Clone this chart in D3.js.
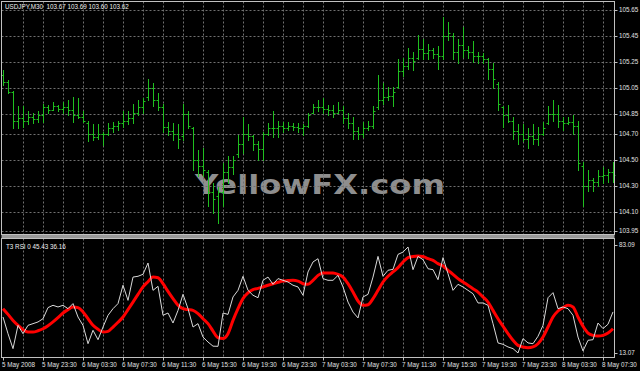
<!DOCTYPE html>
<html><head><meta charset="utf-8">
<script src="https://cdn.jsdelivr.net/npm/d3@7"></script>
<style>html,body{margin:0;padding:0;background:#000;}svg{display:block;}</style>
</head><body>
<svg id="chart" width="640" height="371"></svg>
<script>
const highs = [105.19,105.11,105.03,104.91,104.91,104.87,104.86,104.87,104.93,104.92,104.94,104.92,104.94,104.96,104.98,104.97,104.87,104.80,104.77,104.77,104.71,104.78,104.79,104.80,104.87,104.87,104.93,104.96,104.97,105.12,105.09,105.01,104.93,104.79,104.78,104.77,104.93,104.87,104.75,104.57,104.59,104.42,104.32,104.29,104.47,104.53,104.53,104.69,104.83,104.77,104.69,104.64,104.71,104.78,104.87,104.80,104.79,104.79,104.78,104.78,104.77,104.86,104.93,104.96,104.97,104.92,104.92,104.94,104.91,104.86,104.83,104.75,104.79,104.80,104.91,105.15,105.09,105.06,105.06,105.27,105.28,105.36,105.33,105.46,105.43,105.39,105.36,105.37,105.60,105.56,105.47,105.43,105.52,105.37,105.41,105.33,105.32,105.28,105.24,105.10,104.91,104.92,104.83,104.77,104.77,104.74,104.77,104.75,104.79,104.91,104.96,104.92,104.83,104.83,104.84,104.80,104.48,104.42,104.36,104.42,104.44,104.43,104.48];
const lows = [105.07,105.01,104.74,104.74,104.75,104.77,104.78,104.79,104.79,104.86,104.88,104.87,104.86,104.84,104.79,104.82,104.79,104.64,104.65,104.66,104.61,104.69,104.71,104.73,104.75,104.77,104.78,104.84,104.86,104.96,104.91,104.88,104.71,104.69,104.65,104.59,104.65,104.74,104.42,104.37,104.37,104.14,104.09,104.01,104.14,104.32,104.39,104.52,104.55,104.65,104.57,104.50,104.50,104.69,104.67,104.67,104.71,104.73,104.73,104.71,104.69,104.75,104.86,104.87,104.86,104.84,104.83,104.86,104.78,104.74,104.66,104.66,104.67,104.73,104.74,104.89,104.93,104.96,104.91,105.05,105.14,105.20,105.19,105.27,105.27,105.27,105.28,105.20,105.27,105.42,105.27,105.24,105.29,105.28,105.25,105.24,105.24,105.12,105.05,104.88,104.75,104.79,104.66,104.62,104.64,104.59,104.62,104.61,104.69,104.77,104.80,104.75,104.73,104.77,104.70,104.42,104.14,104.26,104.26,104.30,104.32,104.33,104.33];
const opens = [105.15,105.10,105.02,104.80,104.82,104.80,104.83,104.81,104.84,104.90,104.88,104.91,104.89,104.90,104.88,104.84,104.83,104.78,104.70,104.67,104.70,104.70,104.74,104.76,104.78,104.80,104.82,104.86,104.90,104.98,105.05,104.96,104.90,104.75,104.72,104.70,104.68,104.85,104.74,104.50,104.45,104.40,104.25,104.22,104.25,104.40,104.44,104.54,104.62,104.70,104.68,104.62,104.58,104.70,104.74,104.74,104.76,104.74,104.76,104.75,104.74,104.76,104.86,104.90,104.90,104.89,104.88,104.86,104.88,104.82,104.78,104.72,104.70,104.74,104.76,104.90,104.96,104.98,104.99,105.06,105.18,105.22,105.28,105.28,105.35,105.32,105.34,105.31,105.30,105.45,105.45,105.33,105.38,105.34,105.33,105.30,105.30,105.27,105.20,105.08,104.90,104.84,104.80,104.72,104.70,104.66,104.68,104.66,104.70,104.78,104.85,104.85,104.80,104.78,104.79,104.76,104.45,104.30,104.34,104.33,104.37,104.38,104.40];
const closes = [105.10,105.02,104.80,104.82,104.80,104.83,104.81,104.84,104.90,104.88,104.91,104.89,104.90,104.88,104.84,104.83,104.80,104.70,104.67,104.70,104.70,104.74,104.76,104.78,104.80,104.82,104.86,104.90,104.95,105.05,104.96,104.90,104.75,104.72,104.70,104.66,104.85,104.76,104.50,104.45,104.42,104.25,104.20,104.25,104.40,104.44,104.50,104.62,104.70,104.68,104.62,104.58,104.70,104.74,104.74,104.76,104.74,104.76,104.75,104.74,104.76,104.84,104.90,104.90,104.89,104.88,104.86,104.88,104.82,104.78,104.72,104.70,104.74,104.76,104.87,104.96,104.98,104.99,105.02,105.18,105.22,105.28,105.26,105.35,105.32,105.34,105.31,105.30,105.45,105.47,105.33,105.38,105.34,105.33,105.30,105.30,105.27,105.20,105.12,104.93,104.84,104.80,104.72,104.70,104.66,104.68,104.66,104.70,104.74,104.85,104.85,104.80,104.78,104.79,104.76,104.47,104.30,104.34,104.33,104.37,104.38,104.40,104.38];
const rsi = [36.4,25.6,15.9,31.0,25.6,31.0,32.1,33.2,35.3,42.5,44.0,42.9,44.0,41.8,45.1,36.4,31.0,19.1,27.8,21.7,29.9,37.5,41.8,45.1,57.0,47.2,62.3,62.8,64.1,71.4,53.7,56.3,37.5,39.0,32.5,40.7,51.1,41.8,29.9,32.1,23.4,20.2,17.5,17.4,39.0,38.1,49.4,53.7,62.8,53.7,50.5,48.9,60.2,62.3,57.6,61.3,60.2,59.1,57.0,55.9,50.5,65.6,72.1,74.2,61.3,60.2,60.2,63.4,55.9,46.1,39.6,35.8,49.4,51.1,62.3,75.7,62.8,66.7,67.3,77.0,78.5,81.8,67.1,75.7,73.6,67.7,67.1,60.6,74.9,64.5,53.7,57.6,55.9,53.7,51.5,45.5,45.5,44.0,32.1,19.6,18.7,17.0,15.9,13.1,22.4,19.6,19.1,23.9,31.0,48.9,52.2,41.8,42.9,41.8,37.5,23.4,14.4,21.3,21.7,32.5,28.9,31.7,39.7];
const t3 = [41.8,38.1,34.2,31.0,28.2,26.7,26.7,27.5,28.8,30.8,33.2,36.0,39.0,41.2,42.9,42.5,39.7,35.3,31.0,28.4,26.7,27.1,29.9,33.0,36.4,41.2,46.1,51.1,55.9,59.3,62.3,61.9,58.0,53.0,48.3,44.0,41.8,41.2,40.7,38.6,35.3,32.1,27.3,23.0,22.4,25.6,34.2,41.8,48.3,52.0,54.1,55.0,55.9,57.0,58.0,58.9,59.7,60.0,60.2,59.7,58.0,57.6,60.2,63.4,65.0,65.0,65.0,64.1,62.3,58.0,52.6,46.8,44.0,44.4,48.3,53.7,59.1,62.8,65.6,68.4,72.1,74.9,75.7,75.9,75.7,74.2,73.1,71.0,69.5,66.7,64.1,61.3,59.1,57.0,54.8,52.6,49.4,46.1,40.7,35.3,30.4,25.6,21.3,18.0,17.0,16.5,17.0,19.1,23.4,29.9,36.4,40.3,42.5,44.0,42.9,36.4,30.4,26.0,24.5,24.1,24.5,26.0,28.8];
const priceTicks = [105.65,105.45,105.25,105.05,104.85,104.70,104.50,104.30,104.10,103.95];
const rsiTicks = [83.09,13.07];
const timeLabels = ["5 May 2008","5 May 23:30","6 May 03:30","6 May 07:30","6 May 11:30","6 May 15:30","6 May 19:30","6 May 23:30","7 May 03:30","7 May 07:30","7 May 11:30","7 May 15:30","7 May 19:30","7 May 23:30","8 May 03:30","8 May 07:30"];
const titleText = "USDJPY,M30  103.67 103.69 103.60 103.62";
const subTitle = "T3 RSI 0 45.43 36.16";
const watermark = "YellowFX.com";

const svg = d3.select("#chart");
const W = 640, H = 371;
const L = 1.5, R = 614.5, T1 = 1.5, B1 = 234.5, T2 = 238.5, B2 = 357.5;
const n = highs.length;
const x = d3.scaleLinear().domain([0, n - 1]).range([3, 3 + 5 * (n - 1)]);
const y = d3.scaleLinear().domain([103.95, 105.65]).range([231, 10]);
const yr = d3.scaleLinear().domain([13.07, 83.09]).range([353, 245]);
const px = v => Math.round(v) + 0.5;

svg.append("rect").attr("width", W).attr("height", H).attr("fill", "#000");

const font = "'Liberation Sans', Arial, sans-serif";
const gridCol = "#707070";

// watermark
svg.append("text").attr("x", 195).attr("y", 194)
  .attr("font-family", "'DejaVu Sans', sans-serif").attr("font-weight", "bold")
  .attr("font-size", 27).attr("textLength", 250).attr("lengthAdjust", "spacingAndGlyphs")
  .attr("fill", "#8e8e8e").text(watermark);

// vertical grid
const vIdx = d3.range(4, n, 4);
svg.append("g").selectAll("line").data(vIdx).join("line")
  .attr("x1", d => px(x(d))).attr("x2", d => px(x(d)))
  .attr("y1", T1).attr("y2", B1)
  .attr("stroke", gridCol).attr("stroke-dasharray", "2,2");
svg.append("g").selectAll("line").data(vIdx).join("line")
  .attr("x1", d => px(x(d))).attr("x2", d => px(x(d)))
  .attr("y1", T2).attr("y2", B2)
  .attr("stroke", gridCol).attr("stroke-dasharray", "2,2");

// horizontal grid top panel
svg.append("g").selectAll("line").data(priceTicks).join("line")
  .attr("x1", L).attr("x2", R)
  .attr("y1", d => px(y(d))).attr("y2", d => px(y(d)))
  .attr("stroke", gridCol).attr("stroke-dasharray", "2,2");

// price axis labels
const pa = svg.append("g");
pa.selectAll("line").data(priceTicks).join("line")
  .attr("x1", R).attr("x2", R + 3)
  .attr("y1", d => px(y(d))).attr("y2", d => px(y(d))).attr("stroke", "#c0c0c0");
pa.selectAll("text").data(priceTicks).join("text")
  .attr("x", 619).attr("y", d => y(d) + 2.3)
  .attr("font-family", font).attr("font-size", 6.3).attr("fill", "#e0e0e0")
  .text(d => d.toFixed(2));

// rsi labels
const ra = svg.append("g");
ra.selectAll("text").data(rsiTicks).join("text")
  .attr("x", 619).attr("y", d => yr(d) + 2.3)
  .attr("font-family", font).attr("font-size", 6.3).attr("fill", "#e0e0e0")
  .text(d => d.toFixed(2));
ra.selectAll("line").data(rsiTicks).join("line")
  .attr("x1", R).attr("x2", R + 3)
  .attr("y1", d => px(yr(d))).attr("y2", d => px(yr(d))).attr("stroke", "#c0c0c0");

// time labels
const lIdx = timeLabels.map((t, i) => i * 8);
const ta = svg.append("g");
ta.selectAll("line").data(lIdx).join("line")
  .attr("x1", d => px(x(d))).attr("x2", d => px(x(d)))
  .attr("y1", B2).attr("y2", B2 + 3).attr("stroke", "#c0c0c0");
ta.selectAll("text").data(lIdx).join("text")
  .attr("x", d => x(d) - 1).attr("y", 367)
  .attr("font-family", font).attr("font-size", 6.3).attr("fill", "#e0e0e0")
  .text((d, i) => timeLabels[i]);

// OHLC bars
const barCol = "#1fbf1f";
const bars = svg.append("g").attr("stroke", barCol).attr("stroke-width", 1);
const idx = d3.range(n);
bars.selectAll("line.hl").data(idx).join("line").attr("class", "hl")
  .attr("x1", i => px(x(i))).attr("x2", i => px(x(i)))
  .attr("y1", i => Math.round(y(highs[i]))).attr("y2", i => Math.round(y(lows[i])) + 1);
bars.selectAll("line.op").data(idx).join("line").attr("class", "op")
  .attr("x1", i => px(x(i)) - 2).attr("x2", i => px(x(i)))
  .attr("y1", i => px(y(opens[i]))).attr("y2", i => px(y(opens[i])));
bars.selectAll("line.cl").data(idx).join("line").attr("class", "cl")
  .attr("x1", i => px(x(i))).attr("x2", i => px(x(i)) + 2)
  .attr("y1", i => px(y(closes[i]))).attr("y2", i => px(y(closes[i])));

// RSI lines
svg.append("defs").append("clipPath").attr("id", "lowclip")
  .append("rect").attr("x", L).attr("y", T2).attr("width", R - L).attr("height", B2 - T2);
const lower = svg.append("g").attr("clip-path", "url(#lowclip)");
lower.append("path").datum(t3)
  .attr("d", d3.line().x((d, i) => x(i)).y(d => yr(d)).curve(d3.curveMonotoneX))
  .attr("fill", "none").attr("stroke", "#ff0000").attr("stroke-width", 3)
  .attr("stroke-linejoin", "round");
lower.append("path").datum(rsi)
  .attr("d", d3.line().x((d, i) => x(i)).y(d => yr(d)))
  .attr("fill", "none").attr("stroke", "#d8d8d8").attr("stroke-width", 1);

// frames
svg.append("rect").attr("x", L).attr("y", T1).attr("width", R - L).attr("height", B1 - T1)
  .attr("fill", "none").attr("stroke", "#c0c0c0");
svg.append("rect").attr("x", L).attr("y", T2).attr("width", R - L).attr("height", B2 - T2)
  .attr("fill", "none").attr("stroke", "#c0c0c0");
svg.append("rect").attr("x", L).attr("y", B1 + 0.5).attr("width", R - L).attr("height", T2 - B1 - 1)
  .attr("fill", "#9a9a9a");

// titles
svg.append("text").attr("x", 5).attr("y", 9)
  .attr("font-family", font).attr("font-size", 6.3).attr("fill", "#f0f0f0")
  .attr("xml:space", "preserve").style("white-space", "pre").text(titleText);
svg.append("text").attr("x", 6).attr("y", 249)
  .attr("font-family", font).attr("font-size", 6.3).attr("fill", "#f0f0f0")
  .text(subTitle);
</script>
</body></html>
